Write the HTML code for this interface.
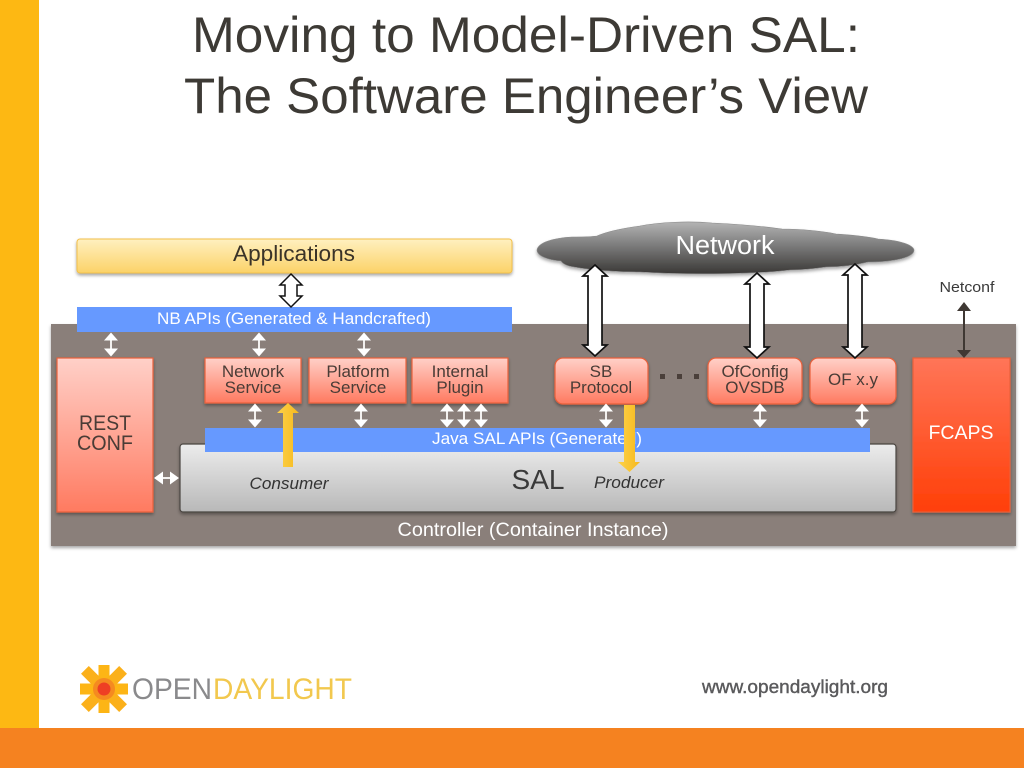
<!DOCTYPE html>
<html><head><meta charset="utf-8"><style>
html,body{margin:0;padding:0;background:#fff;width:1024px;height:768px;overflow:hidden}
svg{display:block}
text{font-family:"Liberation Sans",sans-serif;text-anchor:middle}
</style></head><body>
<svg width="1024" height="768" viewBox="0 0 1024 768" xmlns="http://www.w3.org/2000/svg">
<defs>
<linearGradient id="app" x1="0" y1="0" x2="0" y2="1"><stop offset="0" stop-color="#fff0c0"/><stop offset="1" stop-color="#fbd268"/></linearGradient>
<linearGradient id="red" x1="0" y1="0" x2="0" y2="1"><stop offset="0" stop-color="#ffd0c8"/><stop offset="1" stop-color="#ff7a60"/></linearGradient>
<linearGradient id="fc" x1="0" y1="0" x2="0" y2="1"><stop offset="0" stop-color="#ff7558"/><stop offset="1" stop-color="#ff3f08"/></linearGradient>
<linearGradient id="sal" x1="0" y1="0" x2="0" y2="1"><stop offset="0" stop-color="#ececec"/><stop offset="1" stop-color="#b8b8b8"/></linearGradient>
<linearGradient id="cl" x1="0" y1="0" x2="0" y2="1"><stop offset="0" stop-color="#b4b4b4"/><stop offset=".45" stop-color="#7c7c7c"/><stop offset="1" stop-color="#3a3836"/></linearGradient>
<linearGradient id="yl" x1="0" y1="0" x2="1" y2="0"><stop offset="0" stop-color="#fdd24a"/><stop offset="1" stop-color="#f6b91e"/></linearGradient>
<filter id="sh" x="-10%" y="-10%" width="120%" height="130%"><feDropShadow dx="0" dy="2" stdDeviation="1.5" flood-color="#000" flood-opacity=".35"/></filter>
<g id="sm"><path d="M-1 -5H1V5H-1Z" fill="#f2f0ee"/><path d="M0 -12L7 -4H-7Z M0 12L7 4H-7Z" fill="#fff"/></g>
</defs>

<rect x="0" y="0" width="39" height="728" fill="#fdb813"/>
<rect x="0" y="728" width="1024" height="40" fill="#f58220"/>

<text x="526" y="52" font-size="50" fill="#3d3a35" textLength="668" lengthAdjust="spacingAndGlyphs">Moving to Model-Driven SAL:</text>
<text x="526" y="113" font-size="50" fill="#3d3a35" textLength="684" lengthAdjust="spacingAndGlyphs">The Software Engineer’s View</text>

<rect x="51" y="324" width="965" height="222" fill="#8a7f7a" filter="url(#sh)"/>

<rect x="77" y="239" width="435" height="34" rx="3" fill="url(#app)" stroke="#f3c04a" filter="url(#sh)"/>
<text x="294" y="261" font-size="22.5" fill="#3a3328" textLength="122" lengthAdjust="spacingAndGlyphs">Applications</text>
<rect x="77" y="307" width="435" height="25" fill="#6699ff"/>
<text x="294" y="324" font-size="17" fill="#fff" textLength="274" lengthAdjust="spacingAndGlyphs">NB APIs (Generated &amp; Handcrafted)</text>

<path d="M291 274L302 285H297V296H302L291 307L280 296H285V285H280Z" fill="#fff" stroke="#111" stroke-width="1.5"/>

<!-- cloud -->
<path d="M537 250C538 243 552 238 572 237C582 237 590 237 597 236C606 232 618 229 640 226C660 222 690 221 712 223C735 224 760 226 782 229C800 229 822 231 836 234C850 235 866 236 878 239C896 240 913 244 914 250C914 257 896 262 868 262C856 265 842 267 826 267C812 269 800 270 790 270C760 274 690 275 640 272C616 272 590 270 574 267C566 266 562 263 561 261C548 260 537 256 537 250Z" fill="url(#cl)" stroke="#8a8a8a" stroke-width=".6" filter="url(#sh)"/>
<text x="725" y="254" font-size="25.5" fill="#fff" textLength="99" lengthAdjust="spacingAndGlyphs">Network</text>

<!-- Boxes -->
<g stroke="#e8603a" stroke-width="1.2" fill="url(#red)" filter="url(#sh)">
<rect x="57" y="358" width="96" height="154"/>
<rect x="205" y="358" width="96" height="45"/>
<rect x="309" y="358" width="97" height="45"/>
<rect x="412" y="358" width="96" height="45"/>
<rect x="555" y="358" width="93" height="46" rx="8"/>
<rect x="708" y="358" width="94" height="46" rx="8"/>
<rect x="810" y="358" width="86" height="46" rx="8"/>
<rect x="913" y="358" width="97" height="154" fill="url(#fc)"/>
</g>
<g fill="#4a3c36" font-size="17">
<text x="105" y="430" font-size="21" textLength="52" lengthAdjust="spacingAndGlyphs">REST</text>
<text x="105" y="450" font-size="21" textLength="56" lengthAdjust="spacingAndGlyphs">CONF</text>
<text x="253" y="377">Network</text><text x="253" y="393">Service</text>
<text x="358" y="377">Platform</text><text x="358" y="393">Service</text>
<text x="460" y="377">Internal</text><text x="460" y="393">Plugin</text>
<text x="601" y="377">SB</text><text x="601" y="393">Protocol</text>
<text x="755" y="377">OfConfig</text><text x="755" y="393">OVSDB</text>
<text x="853" y="385">OF x.y</text>
</g>
<text x="961" y="439" font-size="19" fill="#fff" textLength="65" lengthAdjust="spacingAndGlyphs">FCAPS</text>

<!-- dots -->
<g fill="#4a3f3a"><rect x="660" y="374" width="5" height="5"/><rect x="677" y="374" width="5" height="5"/><rect x="694" y="374" width="5" height="5"/></g>

<!-- SAL -->
<rect x="180" y="444" width="716" height="68" rx="3" fill="url(#sal)" stroke="#4a4440" stroke-width="1.2" filter="url(#sh)"/>
<rect x="205" y="428" width="665" height="24" fill="#6699ff"/>
<text x="537" y="444" font-size="17" fill="#fff" textLength="210" lengthAdjust="spacingAndGlyphs">Java SAL APIs (Generated)</text>
<text x="538" y="489" font-size="28" fill="#3a3a3a" textLength="53" lengthAdjust="spacingAndGlyphs">SAL</text>
<text x="289" y="489" font-size="17" font-style="italic" fill="#333" textLength="79" lengthAdjust="spacingAndGlyphs">Consumer</text>
<text x="629" y="488" font-size="17" font-style="italic" fill="#333" textLength="70" lengthAdjust="spacingAndGlyphs">Producer</text>
<text x="533" y="536" font-size="19" fill="#fff" textLength="271" lengthAdjust="spacingAndGlyphs">Controller (Container Instance)</text>

<!-- Big arrows -->
<g fill="#fff" stroke="#111" stroke-width="1.7">
<path d="M595 265L607 276H602V345H607L595 356L583 345H588V276H583Z"/>
<path d="M757 273L769 284H764V347H769L757 358L745 347H750V284H745Z"/>
<path d="M855 264L867 275H862V347H867L855 358L843 347H848V275H843Z"/>
</g>

<!-- small arrows -->
<use href="#sm" x="111" y="344.5"/><use href="#sm" x="259" y="344.5"/><use href="#sm" x="364" y="344.5"/>
<use href="#sm" x="255" y="415.5"/><use href="#sm" x="361" y="415.5"/>
<use href="#sm" x="447" y="415.5"/><use href="#sm" x="464" y="415.5"/><use href="#sm" x="481" y="415.5"/>
<use href="#sm" x="606" y="415.5"/><use href="#sm" x="760" y="415.5"/><use href="#sm" x="862" y="415.5"/>
<path d="M160 477H172V479H160Z" fill="#f2f0ee"/>
<path d="M154 478L163 471.5V484.5Z M179 478L170 471.5V484.5Z" fill="#fff"/>

<!-- yellow arrows -->
<path d="M288 403L299 413H293V467H283V413H277Z" fill="url(#yl)"/>
<path d="M624 405H635V462H640L629.500 472L618 462H624Z" fill="url(#yl)"/>

<!-- Netconf -->
<text x="967" y="292" font-size="14.500" fill="#3a3a3a" textLength="55" lengthAdjust="spacingAndGlyphs">Netconf</text>
<path d="M964 302L971 311H965V350H971L964 358L957 350H963V311H957Z" fill="#3f3833"/>

<!-- logo -->
<g transform="translate(104,689)">
<rect x="-24" y="-5.500" width="48" height="11" fill="#fdb515"/>
<rect x="-5.500" y="-24" width="11" height="48" fill="#fdb515"/>
<rect x="-27" y="-5.500" width="54" height="11" transform="rotate(45)" fill="#fbb01a"/>
<rect x="-27" y="-5.500" width="54" height="11" transform="rotate(-45)" fill="#fbb01a"/>
<circle r="11" fill="#f58a20"/>
<circle r="6.500" fill="#ee3f24"/>
</g>
<text x="172" y="699" font-size="30" fill="#8a8a8c" textLength="80" lengthAdjust="spacingAndGlyphs">OPEN</text>
<text x="282.500" y="699" font-size="30" fill="#f2c84e" textLength="139" lengthAdjust="spacingAndGlyphs">DAYLIGHT</text>

<text x="795" y="693" font-size="18" fill="#5a5a5c" stroke="#5a5a5c" stroke-width=".4" textLength="186" lengthAdjust="spacingAndGlyphs">www.opendaylight.org</text>
</svg>
</body></html>
